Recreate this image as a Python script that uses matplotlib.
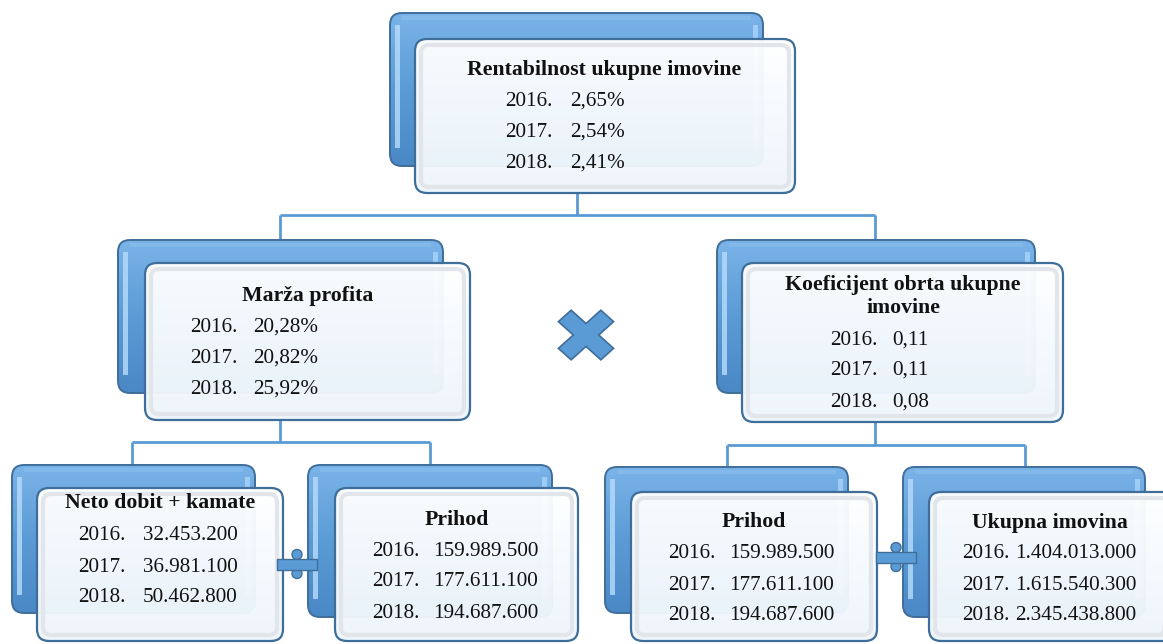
import numpy as np
import matplotlib
matplotlib.use("Agg")
import matplotlib.pyplot as plt
from matplotlib.patches import FancyBboxPatch, Polygon, Circle, Rectangle
from matplotlib.transforms import Affine2D

plt.rcParams['font.family'] = ['Liberation Serif', 'DejaVu Serif']

# data
years = ['2016.', '2017.', '2018.']
rentabilnost = ['2,65%', '2,54%', '2,41%']
marza_profita = ['20,28%', '20,82%', '25,92%']
koeficijent_obrta = ['0,11', '0,11', '0,08']
neto_dobit_kamate = ['32.453.200', '36.981.100', '50.462.800']
prihod = ['159.989.500', '177.611.100', '194.687.600']
ukupna_imovina = ['1.404.013.000', '1.615.540.300', '2.345.438.800']

titles = ['Rentabilnost ukupne imovine', 'Marža profita', 'Koeficijent obrta ukupne\nimovine',
          'Neto dobit + kamate', 'Prihod', 'Prihod', 'Ukupna imovina']
values = [rentabilnost, marza_profita, koeficijent_obrta, neto_dobit_kamate, prihod, prihod, ukupna_imovina]

# layout in pixels: back box, front box, title centre, row x (year, value), row y's
layout = [
    dict(back=(390, 13, 763, 166), front=(415, 39, 795, 193), tx=604, ty=[70],
         yx=505, vx=570, rows=[101, 132, 163]),
    dict(back=(118, 240, 443, 393), front=(145, 263, 470, 420), tx=308, ty=[296],
         yx=190, vx=253, rows=[327, 358, 389]),
    dict(back=(717, 240, 1035, 393), front=(742, 263, 1063, 422), tx=903, ty=[285, 308],
         yx=830, vx=892, rows=[340, 370, 402]),
    dict(back=(12, 465, 255, 613), front=(37, 488, 283, 641), tx=160, ty=[503],
         yx=78, vx=143, rows=[535, 567, 598]),
    dict(back=(308, 465, 552, 617), front=(335, 488, 578, 641), tx=457, ty=[520],
         yx=372, vx=433, rows=[551, 582, 613]),
    dict(back=(605, 467, 848, 613), front=(631, 492, 877, 641), tx=754, ty=[522],
         yx=668, vx=729, rows=[553, 585, 616]),
    dict(back=(903, 467, 1145, 617), front=(929, 492, 1175, 641), tx=1050, ty=[523],
         yx=962, vx=1015, rows=[553, 585, 616]),
]

BLUE = '#5b9bd5'
EDGE = '#3f6e9a'
LINE = '#5b9bd5'

fig = plt.figure(figsize=(11.63, 6.44), dpi=100)
ax = fig.add_axes([0, 0, 1, 1])
ax.set_xlim(0, 1163)
ax.set_ylim(644, 0)
ax.axis('off')

grad = np.linspace(0, 1, 64).reshape(-1, 1)
blue_cmap = matplotlib.colors.LinearSegmentedColormap.from_list('b', ['#7ab3e8', '#5b9bd5', '#4a88c6'])
white_cmap = matplotlib.colors.LinearSegmentedColormap.from_list('w', ['#ffffff', '#f5fafe', '#eef5fb'])


def rbox(x0, y0, x1, y1, r=12, **kw):
    return FancyBboxPatch((x0, y0), x1 - x0, y1 - y0,
                          boxstyle=f"round,pad=0,rounding_size={r}", **kw)


def draw_box(lay, z):
    bx0, by0, bx1, by1 = lay['back']
    ax.add_patch(rbox(bx0, by0, bx1, by1, fc='none', ec=EDGE, lw=1.4, zorder=z + 0.3))
    im = ax.imshow(grad, cmap=blue_cmap, extent=(bx0, bx1, by1, by0), aspect='auto', zorder=z)
    im.set_clip_path(rbox(bx0, by0, bx1, by1, fc='none', transform=ax.transData))
    # bevel highlights
    ax.add_patch(Rectangle((bx0 + 5, by0 + 12), 5, by1 - by0 - 30, fc='#b8dcfb', ec='none',
                           alpha=0.8, zorder=z + 0.1))
    ax.add_patch(Rectangle((bx1 - 10, by0 + 12), 5, by1 - by0 - 30, fc='#a9d4fa', ec='none',
                           alpha=0.8, zorder=z + 0.1))
    ax.add_patch(Rectangle((bx0 + 12, by0 + 3), bx1 - bx0 - 24, 4, fc='#8cc0ee', ec='none',
                           alpha=0.6, zorder=z + 0.1))

    fx0, fy0, fx1, fy1 = lay['front']
    im2 = ax.imshow(grad, cmap=white_cmap, extent=(fx0, fx1, fy1, fy0), aspect='auto',
                    zorder=z + 1, alpha=0.97)
    im2.set_clip_path(rbox(fx0, fy0, fx1, fy1, fc='none', transform=ax.transData))
    ax.add_patch(rbox(fx0 + 6, fy0 + 6, fx1 - 6, fy1 - 6, r=8, fc='none', ec='#e2e5e9', lw=3,
                      zorder=z + 1.1))
    ax.add_patch(rbox(fx0, fy0, fx1, fy1, fc='none', ec=EDGE, lw=1.6, zorder=z + 1.2))


# connectors
conn_kw = dict(color=LINE, lw=2, zorder=1, solid_capstyle='butt')
ax.plot([577, 577], [193, 215], **conn_kw)
ax.plot([280, 875], [215, 215], **conn_kw)
ax.plot([280, 280], [215, 240], **conn_kw)
ax.plot([875, 875], [215, 240], **conn_kw)
ax.plot([280, 280], [420, 442], **conn_kw)
ax.plot([132, 430], [442, 442], **conn_kw)
ax.plot([132, 132], [442, 465], **conn_kw)
ax.plot([430, 430], [442, 465], **conn_kw)
ax.plot([875, 875], [422, 445], **conn_kw)
ax.plot([727, 1025], [445, 445], **conn_kw)
ax.plot([727, 727], [445, 467], **conn_kw)
ax.plot([1025, 1025], [445, 467], **conn_kw)

for i, (lay, title, vals) in enumerate(zip(layout, titles, values)):
    z = 2 + i * 3
    draw_box(lay, z)
    for k, line in enumerate(title.split('\n')):
        ax.text(lay['tx'], lay['ty'][k], line, ha='center', va='center', fontsize=15.7,
                fontweight='bold', color='#111111', zorder=z + 2)
    for yr, v, ry in zip(years, vals, lay['rows']):
        ax.text(lay['yx'], ry, yr, ha='left', va='center', fontsize=15.2, color='#111111', zorder=z + 2)
        ax.text(lay['vx'], ry, v, ha='left', va='center', fontsize=15.2, color='#111111', zorder=z + 2)

# multiply sign
arm = np.array([[-9, -30], [9, -30], [9, -9], [30, -9], [30, 9], [9, 9], [9, 30], [-9, 30],
                [-9, 9], [-30, 9], [-30, -9], [-9, -9]])
tr = Affine2D().rotate_deg(45).scale(1.0, 0.9).translate(586, 335)
ax.add_patch(Polygon(tr.transform(arm), closed=True, fc=BLUE, ec=EDGE, lw=1.2, zorder=40))


# divide signs
def divide(cx, cy, w):
    ax.add_patch(Rectangle((cx - w / 2, cy - 5.5), w, 11, fc=BLUE, ec=EDGE, lw=1, zorder=40))
    ax.add_patch(Circle((cx, cy - 9.5), 5, fc=BLUE, ec=EDGE, lw=1, zorder=39))
    ax.add_patch(Circle((cx, cy + 9.5), 5, fc=BLUE, ec=EDGE, lw=1, zorder=39))


divide(297, 564, 40)
divide(896, 557, 40)

fig.savefig('out.png', dpi=100)
